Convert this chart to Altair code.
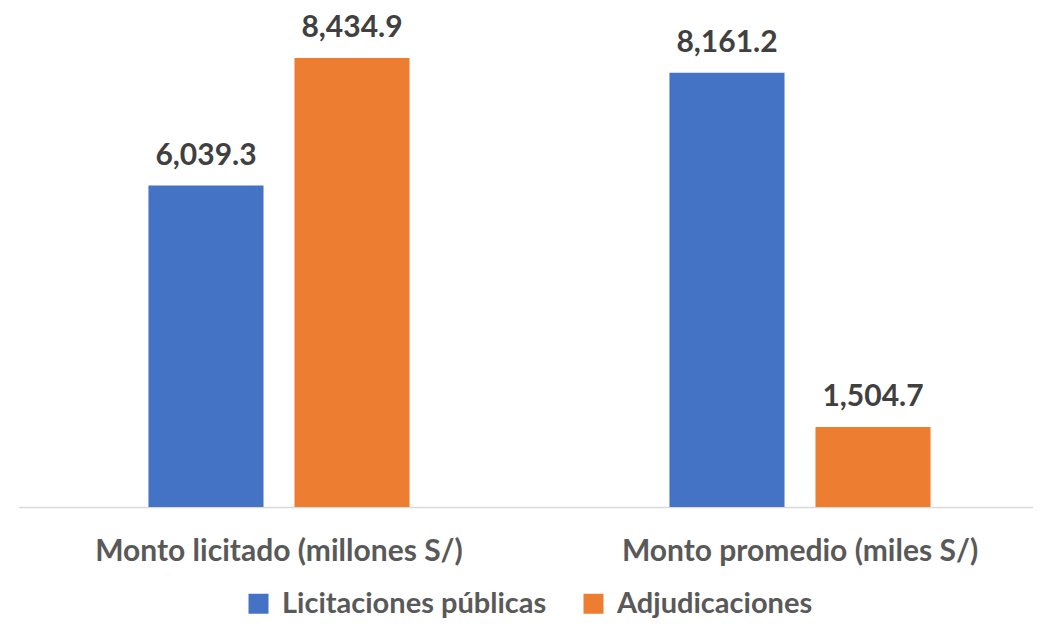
import altair as alt
import pandas as pd

categories = ["Monto licitado (millones S/)", "Monto promedio (miles S/)"]
series = ["Licitaciones públicas", "Adjudicaciones"]
licitaciones = [6039.3, 8161.2]
adjudicaciones = [8434.9, 1504.7]
colors = ["#4472C4", "#ED7D31"]

rows = []
for i, c in enumerate(categories):
    rows.append({"cat": c, "serie": series[0], "valor": licitaciones[i]})
    rows.append({"cat": c, "serie": series[1], "valor": adjudicaciones[i]})
df = pd.DataFrame(rows)

FONT = "Lato"

x = alt.X("cat:N", sort=categories, title=None,
          scale=alt.Scale(range=[10.5, 1052.5], paddingInner=0, paddingOuter=0),
          axis=alt.Axis(labelAngle=0, labelFontSize=30, labelFont=FONT, labelFontWeight="bold",
                        labelColor="#595959", ticks=False, domainColor="#D9D9D9", domainWidth=1.5,
                        labelPadding=29, labelLimit=600))
xo = alt.XOffset("serie:N", sort=series,
                 scale=alt.Scale(paddingInner=0.212, paddingOuter=0.89))
y = alt.Y("valor:Q", scale=alt.Scale(domain=[0, 9000]), axis=None)

bars = alt.Chart(df).mark_bar().encode(
    x=x, xOffset=xo, y=y,
    color=alt.Color("serie:N", sort=series, scale=alt.Scale(domain=series, range=colors),
                    legend=alt.Legend(title=None, orient="none", legendX=236, legendY=561,
                                      direction="horizontal",
                                      symbolType="square", symbolSize=400, symbolStrokeWidth=0,
                                      labelFontSize=29, labelFont=FONT, labelFontWeight="bold",
                                      labelColor="#595959", labelOffset=9, columnPadding=32,
                                      padding=0, labelLimit=600))
)

labels = alt.Chart(df).mark_text(font=FONT, fontSize=30, fontWeight="bold", color="#404040",
                                 baseline="alphabetic", dy=-21).encode(
    x=x, xOffset=xo, y=y,
    text=alt.Text("valor:Q", format=",.1f")
)

chart = (bars + labels).properties(
    width=1025, height=479,
    autosize=alt.AutoSizeParams(type="none"),
    padding={"left": 0, "right": 0, "top": 20, "bottom": 112}
).configure_view(stroke=None).configure_axis(grid=False)

chart.save("out.html", embed_options={"renderer": "svg", "actions": False})
